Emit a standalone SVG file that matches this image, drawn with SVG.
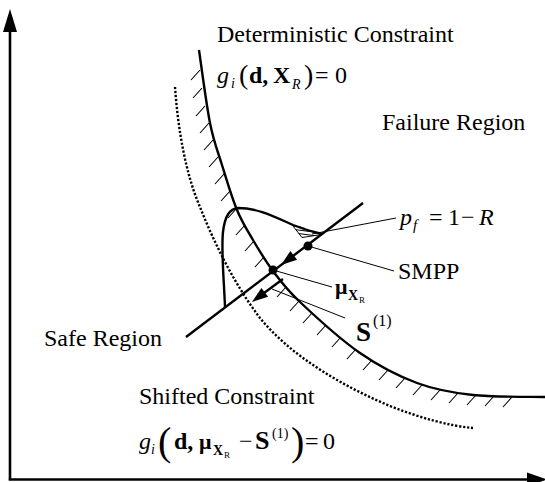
<svg xmlns="http://www.w3.org/2000/svg" width="545" height="482" viewBox="0 0 545 482">
<style>
.t{font-family:"Liberation Serif","Times New Roman",serif;fill:#000}
.it{font-style:italic}
.b{font-weight:bold}
.ax{stroke:#000;stroke-width:2.6;fill:none}
.cur{stroke:#000;stroke-width:2.4;fill:none}
.hat{stroke:#000;stroke-width:1.1;fill:none}
.thin{stroke:#000;stroke-width:1;fill:none}
.dot{stroke:#000;stroke-width:2.4;fill:none;stroke-dasharray:2.2 1.8}
</style>
<defs>
<clipPath id="sl"><polygon points="291,223.5 302,237.5 322,234.5 310,229.5"/></clipPath>
</defs>
<rect width="545" height="482" fill="#fff"/>
<g id="axes">
<line class="ax" x1="10" y1="479.5" x2="10" y2="28"/>
<polygon points="10,9 3,32 17,32"/>
<line class="ax" x1="8.7" y1="479.5" x2="530" y2="479.5"/>
<polygon points="547,479.5 527,472.5 527,486.5"/>
</g>
<g id="deterministic-constraint">
<path class="cur" d="M199,50 C200.8,62.2 206.2,103.8 210,123 C213.8,142.2 217.5,150.5 222,165 C226.5,179.5 231.8,197.5 237,210 C242.2,222.5 247,229.8 253,240 C259,250.2 265.2,260.7 273,271 C280.8,281.3 285.5,288.3 300,302 C314.5,315.7 340.5,339.5 360,353 C379.5,366.5 398.2,376 417,383 C435.8,390 451.7,392.7 473,395 C494.3,397.3 533,396.7 545,397"/>
<path class="hat" d="M200,70 l-9,10 M202,88 l-9,10 M205,106 l-9,10 M209,123 l-9,10 M213,140 l-9,10 M218,157 l-9,10 M224,174 l-9,10 M230,191 l-9,10 M237,208 l-9,10 M245,225 l-9,10 M254,241 l-9,10 M264,257 l-9,10 M286,287 l-9,10 M299,301 l-9,10 M312,313 l-9,10 M326,325 l-9,10 M341,337 l-9,10 M356,349 l-9,10 M372,360 l-9,10 M388,370 l-9,10 M405,378 l-9,10 M422,385 l-9,10 M440,390 l-9,10 M458,393 l-9,10 M476,395 l-9,10 M494,396 l-9,10 M512,397 l-9,10"/>
</g>
<g id="shifted-constraint">
<path class="dot" d="M175,87 C178,130 186,175 200,207 C215,245 235,285 260,318 C290,355 340,385 390,406 C420,418 450,426 473,428"/>
</g>
<g id="pdf">
<path class="cur" stroke-width="2" d="M225,307 C224,280 221,250 223,232 C225,215 230,209 238,208 C258,208 275,217 293,225 C303,229 313,232 322,234"/>
<path class="thin" stroke-width="1.4" d="M291,223.5 L302,237.5 L321.5,234.5"/>
<g clip-path="url(#sl)">
<path class="thin" stroke-width="0.9" d="M286,225 L326,230 M286,228.5 L326,233.5 M286,232 L326,237 M286,235.5 L326,240.5"/>
</g>
<line class="cur" stroke-width="2.2" x1="186" y1="337" x2="363" y2="203"/>
<polygon points="281,265 297.1,259.7 290.4,251"/>
<line class="cur" stroke-width="1.8" x1="283" y1="279" x2="262" y2="294.5"/>
<polygon points="252,302 268.1,296.7 261.4,288"/>
<circle cx="273" cy="270" r="4.5"/>
<circle cx="308" cy="246" r="4.5"/>
</g>
<g id="leaders">
<line class="thin" x1="312" y1="234" x2="396" y2="218"/>
<line class="thin" x1="308" y1="246" x2="394" y2="271"/>
<line class="thin" x1="273" y1="270" x2="332" y2="287"/>
<line class="thin" x1="272" y1="289" x2="345" y2="318"/>
</g>
<g id="labels" class="t" font-size="24">
<text x="217" y="42">Deterministic Constraint</text>
<text y="83"><tspan class="it" x="217">g</tspan><tspan class="it" x="231" y="88" font-size="14">i</tspan><tspan x="239" y="84" font-size="28">(</tspan><tspan class="b" x="249" y="83">d,</tspan><tspan class="b" x="273">X</tspan><tspan class="it" x="292" y="89" font-size="14">R</tspan><tspan x="304" y="84" font-size="28">)</tspan><tspan x="315" y="83">=</tspan><tspan x="335">0</tspan></text>
<text x="382" y="130">Failure Region</text>
<text y="225"><tspan class="it" x="400">p</tspan><tspan class="it" x="413" y="230" font-size="15">f</tspan><tspan x="429" y="225">=</tspan><tspan x="448">1</tspan><tspan x="461">−</tspan><tspan class="it" x="479">R</tspan></text>
<text x="398" y="279">SMPP</text>
<text y="294"><tspan class="b" x="335" font-size="22">μ</tspan><tspan class="b" x="348" y="300" font-size="14">X</tspan><tspan x="359" y="303" font-size="9">R</tspan></text>
<text y="341"><tspan class="b" x="356" font-size="27">S</tspan><tspan x="373" y="326" font-size="16">(1)</tspan></text>
<text x="44" y="346">Safe Region</text>
<text x="139" y="404">Shifted Constraint</text>
<text y="449"><tspan class="it" x="139">g</tspan><tspan class="it" x="151" y="454" font-size="14">i</tspan><tspan x="158" y="455" font-size="40">(</tspan><tspan class="b" x="174" y="449">d,</tspan><tspan class="b" x="199" font-size="22">μ</tspan><tspan class="b" x="213" y="455" font-size="14">X</tspan><tspan x="224" y="458" font-size="9">R</tspan><tspan x="239" y="449">−</tspan><tspan class="b" x="255" font-size="26">S</tspan><tspan x="272" y="438" font-size="14">(1)</tspan><tspan x="291" y="455" font-size="40">)</tspan><tspan x="305" y="449">=</tspan><tspan x="323">0</tspan></text>
</g>
</svg>
